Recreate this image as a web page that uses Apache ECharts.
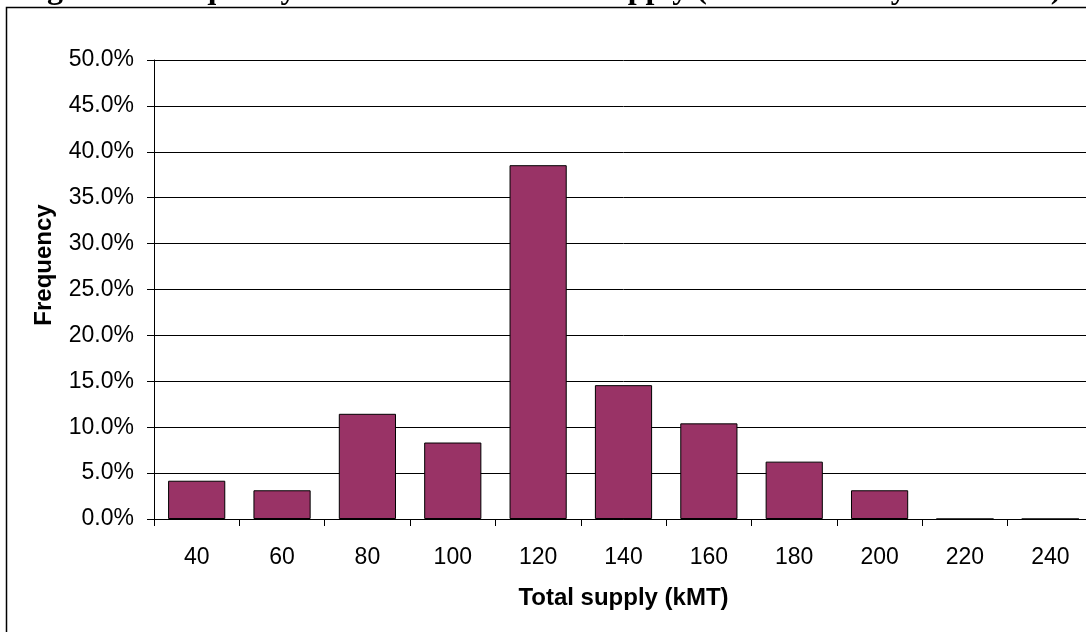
<!DOCTYPE html>
<html>
<head>
<meta charset="utf-8">
<script src="https://cdn.jsdelivr.net/npm/echarts@6/dist/echarts.min.js"></script>
<style>
    html, body { margin: 0; padding: 0; background: #fff; overflow: hidden; }
    #chart { width: 1100px; height: 632px; }
</style>
</head>
<body>
<div id="chart"></div>
<script>
    // supply bins (kMT) and share of runs in each bin (%)
    var categories = ['40', '60', '80', '100', '120', '140', '160', '180', '200', '220', '240'];
    var frequency = [4.17, 3.13, 11.46, 8.33, 38.54, 14.58, 10.42, 6.25, 3.13, 0, 0];

    var chartDom = document.getElementById('chart');
    var myChart = echarts.init(chartDom);
    var option;

    option = {
        animation: false,
        backgroundColor: '#fff',
        graphic: [
            {
                type: 'rect',
                shape: { x: 6.5, y: 7.5, width: 1110, height: 640 },
                style: { fill: 'none', stroke: '#000', lineWidth: 1.5 }
            },
            {
                // title sits mostly above the page edge, like the clipped original
                type: 'text',
                x: 540,
                y: 6,
                style: {
                    text: 'Figure 3: Frequency Distribution of Total Supply (a selection of yr/locations)',
                    font: 'bold 32px "Liberation Serif", "Times New Roman", serif',
                    fill: '#000',
                    textAlign: 'center',
                    textVerticalAlign: 'bottom'
                }
            },
            {
                type: 'text',
                x: 44,
                y: 265,
                rotation: Math.PI / 2,
                style: {
                    text: 'Frequency',
                    font: 'bold 24px "Liberation Sans", Arial, sans-serif',
                    fill: '#000',
                    textAlign: 'center',
                    textVerticalAlign: 'middle'
                }
            }
        ],
        grid: {
            left: 154,
            top: 60,
            width: 939,
            height: 459
        },
        xAxis: {
            type: 'category',
            data: categories,
            name: 'Total supply (kMT)',
            nameLocation: 'middle',
            nameGap: 67,
            nameTextStyle: {
                fontFamily: 'Liberation Sans',
                fontWeight: 'bold',
                fontSize: 24,
                color: '#000'
            },
            axisLine: { lineStyle: { color: '#000', width: 1 } },
            axisTick: { show: true, length: 7, lineStyle: { color: '#000' } },
            axisLabel: {
                margin: 27,
                fontFamily: 'Liberation Sans',
                fontSize: 23,
                color: '#000'
            }
        },
        yAxis: {
            type: 'value',
            min: 0,
            max: 50,
            interval: 5,
            axisLine: { show: true, lineStyle: { color: '#000', width: 1 } },
            axisTick: { show: true, length: 7, lineStyle: { color: '#000' } },
            splitLine: { lineStyle: { color: '#000', width: 1 } },
            axisLabel: {
                margin: 20,
                fontFamily: 'Liberation Sans',
                fontSize: 23,
                color: '#000',
                formatter: function (value) {
                    return value.toFixed(1) + '%';
                }
            }
        },
        series: [{
            type: 'bar',
            data: frequency,
            barCategoryGap: '33%',
            itemStyle: {
                color: '#993366',
                borderColor: '#000',
                borderWidth: 1
            }
        }]
    };

    option && myChart.setOption(option);
</script>
</body>
</html>
